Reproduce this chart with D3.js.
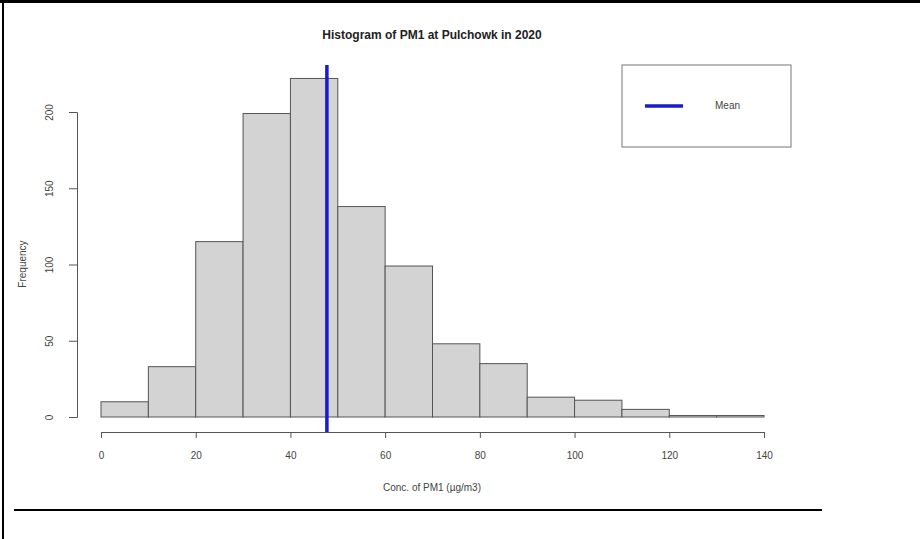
<!DOCTYPE html>
<html>
<head>
<meta charset="utf-8">
<script src="https://cdn.jsdelivr.net/npm/d3@7"></script>
<style>
    body { margin: 0; background: #fff; }
    text { font-family: "Liberation Sans", Arial, sans-serif; fill: #444; }
</style>
</head>
<body>
<div id="chart"></div>
<script>
// data
const binEdges = [0, 10, 20, 30, 40, 50, 60, 70, 80, 90, 100, 110, 120, 130, 140];
const counts = [10, 33, 115, 199, 222, 138, 99, 48, 35, 13, 11, 5, 1, 1];
const xTicks = [0, 20, 40, 60, 80, 100, 120, 140];
const yTicks = [0, 50, 100, 150, 200];
const meanValue = 47.7;

const W = 920;
const H = 539;

const svg = d3.select('#chart')
    .append('svg')
    .attr('width', W)
    .attr('height', H);

// frame lines of the screenshot
svg.append('line').attr('x1', 0).attr('x2', W).attr('y1', 1.5).attr('y2', 1.5)
    .attr('stroke', '#000').attr('stroke-width', 3);
svg.append('line').attr('x1', 3).attr('x2', 3).attr('y1', 0).attr('y2', H)
    .attr('stroke', '#000').attr('stroke-width', 2);
svg.append('line').attr('x1', 14).attr('x2', 822).attr('y1', 510).attr('y2', 510)
    .attr('stroke', '#000').attr('stroke-width', 2);

const x = d3.scaleLinear().domain([0, 140]).range([101, 764]);
const y = d3.scaleLinear().domain([0, 200]).range([417, 112]);

const bins = counts.map((c, i) => ({ x0: binEdges[i], x1: binEdges[i + 1], n: c }));

// bars
svg.append('g')
    .selectAll('rect')
    .data(bins)
    .enter()
    .append('rect')
    .attr('x', d => x(d.x0))
    .attr('y', d => y(d.n))
    .attr('width', d => x(d.x1) - x(d.x0))
    .attr('height', d => y(0) - y(d.n))
    .attr('fill', '#d3d3d3')
    .attr('stroke', '#555')
    .attr('stroke-width', 1);

// x axis
const xAxis = svg.append('g')
    .attr('transform', 'translate(0,432)')
    .call(d3.axisBottom(x).tickValues(xTicks).tickSize(6).tickPadding(14));
xAxis.select('.domain').attr('stroke', '#555');
xAxis.selectAll('.tick line').attr('stroke', '#555');
xAxis.selectAll('text').style('font-size', '10px').attr('fill', '#555');

// y axis
const yAxis = svg.append('g')
    .attr('transform', 'translate(77,0)')
    .call(d3.axisLeft(y).tickValues(yTicks).tickSize(8).tickPadding(0));
yAxis.select('.domain').attr('stroke', '#555');
yAxis.selectAll('.tick line').attr('stroke', '#555');
yAxis.selectAll('text')
    .style('font-size', '10px')
    .attr('fill', '#555')
    .attr('text-anchor', 'middle')
    .attr('x', 0)
    .attr('dy', 0)
    .attr('transform', 'translate(-24,0) rotate(-90)');

// mean line
svg.append('line')
    .attr('x1', x(meanValue)).attr('x2', x(meanValue))
    .attr('y1', 65).attr('y2', 432)
    .attr('stroke', '#1a1ad0')
    .attr('stroke-width', 3.5);

// title and axis labels
svg.append('text')
    .attr('x', 432).attr('y', 39)
    .attr('text-anchor', 'middle')
    .style('font-size', '12px')
    .style('font-weight', 'bold')
    .style('fill', '#222')
    .text('Histogram of PM1 at Pulchowk in 2020');

svg.append('text')
    .attr('x', 432).attr('y', 491)
    .attr('text-anchor', 'middle')
    .style('font-size', '10px')
    .text('Conc. of PM1 (µg/m3)');

svg.append('text')
    .attr('transform', 'translate(26,264) rotate(-90)')
    .attr('text-anchor', 'middle')
    .style('font-size', '10px')
    .text('Frequency');

// legend
svg.append('rect')
    .attr('x', 622).attr('y', 65)
    .attr('width', 169).attr('height', 82)
    .attr('fill', '#fff')
    .attr('stroke', '#777')
    .attr('stroke-width', 1);
svg.append('line')
    .attr('x1', 645).attr('x2', 683)
    .attr('y1', 106).attr('y2', 106)
    .attr('stroke', '#1a1ad0')
    .attr('stroke-width', 3.5);
svg.append('text')
    .attr('x', 715).attr('y', 109)
    .style('font-size', '10px')
    .text('Mean');
</script>
</body>
</html>
